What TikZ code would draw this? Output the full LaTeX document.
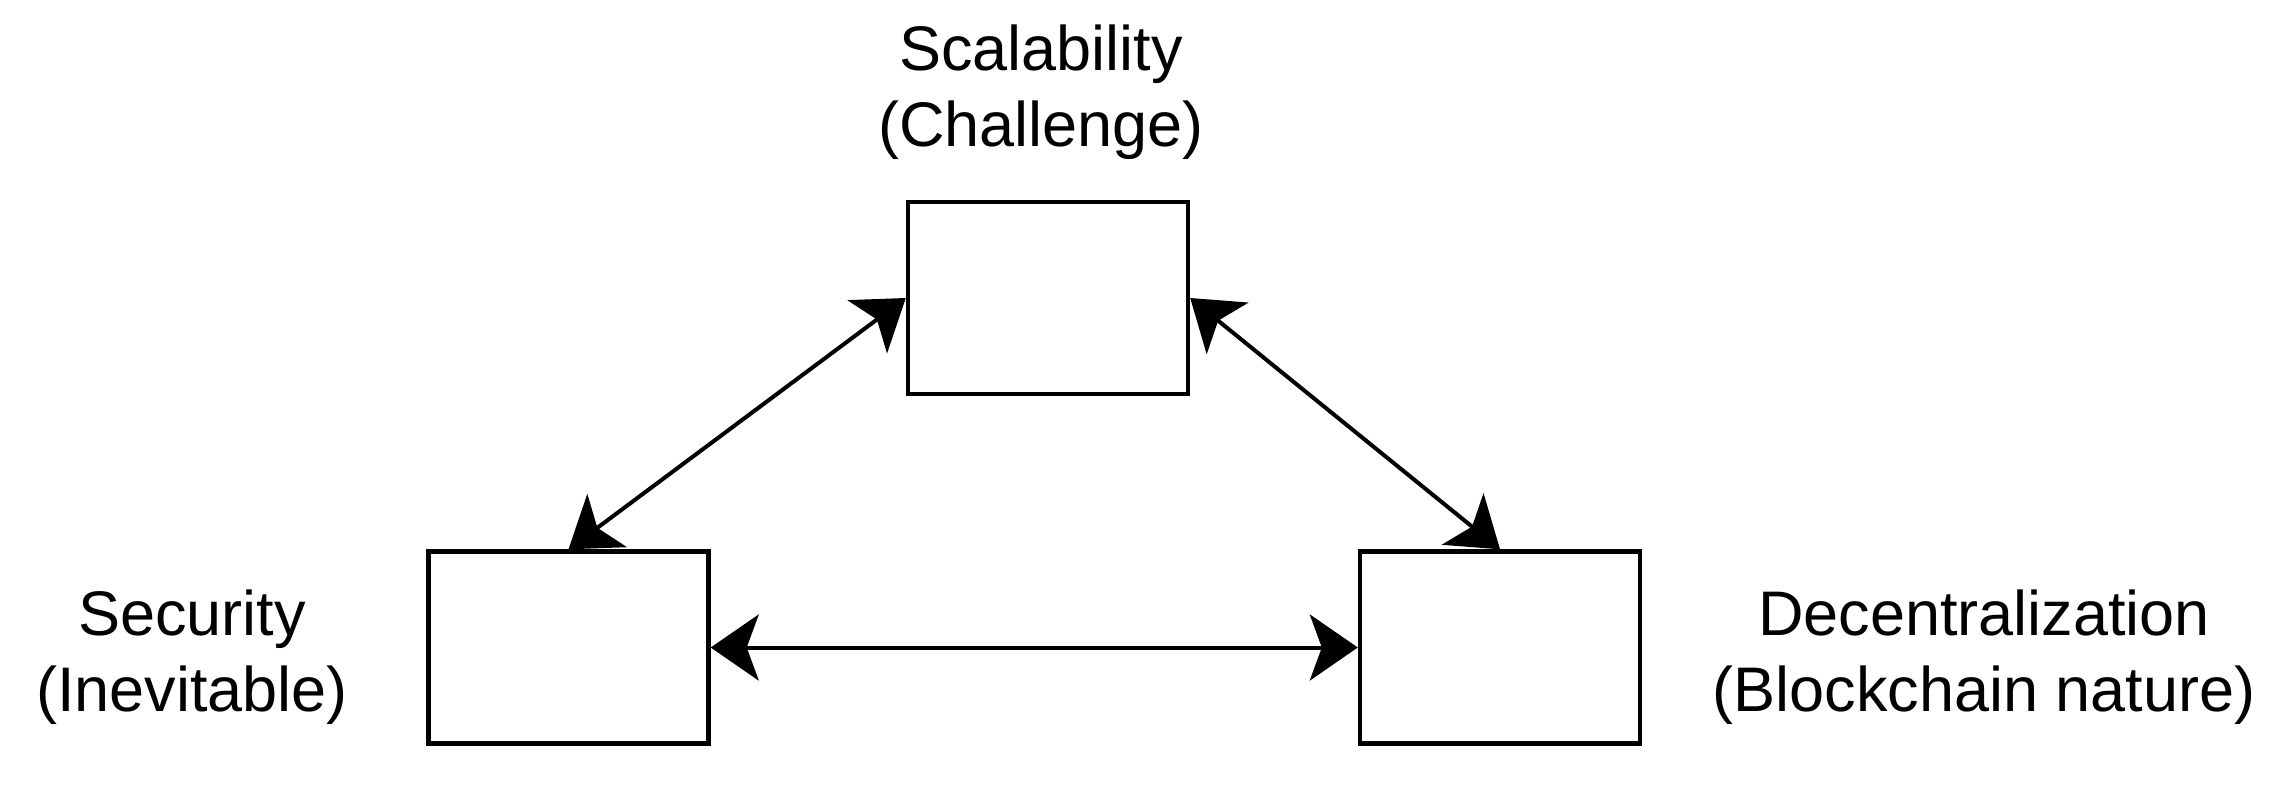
\documentclass[tikz,border=0pt]{standalone}
\usepackage{fontspec}
\setmainfont{Liberation Sans}
\usetikzlibrary{arrows.meta}
\begin{document}
\begin{tikzpicture}[x=0.5pt,y=-0.5pt,
  box/.style={draw=black,line width=2.2pt,minimum width=140pt,minimum height=96pt,inner sep=0pt,fill=white},
  lbl/.style={align=center,inner sep=0pt,font=\fontsize{31.5pt}{38pt}\selectfont,anchor=base},
  link/.style={line width=2pt,{Stealth[length=24pt,width=33pt,inset=6pt]}-{Stealth[length=24pt,width=33pt,inset=6pt]}}]
\useasboundingbox[fill=white] (0,0) rectangle (2274,799);
\node[box] (scal) at (1048,298) {};
\node[box] (sec) at (568.5,647.5) {};
\node[box] (dec) at (1500,647.5) {};
\node[lbl] (scallbl) at (1041,146) {Scalability\\(Challenge)};
\node[lbl] (seclbl) at (192,711) {Security\\(Inevitable)};
\node[lbl] (declbl) at (1984,711) {Decentralization\\(Blockchain nature)};
\draw[link] (scal.west) -- (sec.north);
\draw[link] (scal.east) -- (dec.north);
\draw[link] (sec.east) -- (dec.west);
\end{tikzpicture}
\end{document}
